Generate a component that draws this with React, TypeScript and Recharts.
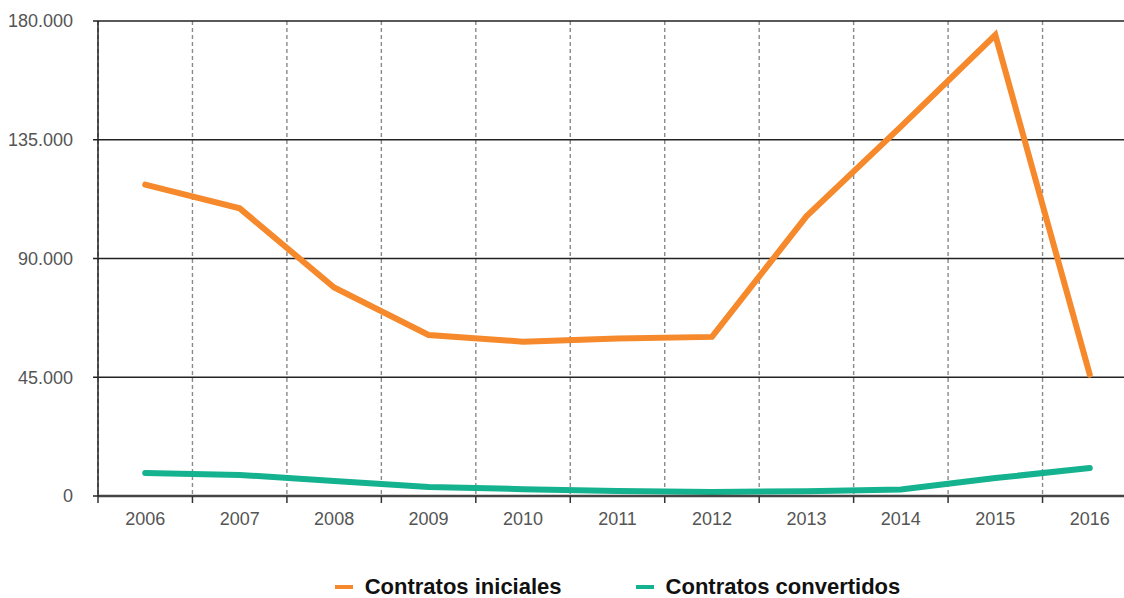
import React from 'react';
import { LineChart, Line, XAxis, YAxis, CartesianGrid, Legend, ReferenceLine } from 'recharts';

const years = ['2006', '2007', '2008', '2009', '2010', '2011', '2012', '2013', '2014', '2015', '2016'];
const contratosIniciales = [118000, 109000, 79000, 61000, 58500, 59700, 60300, 106000, 140000, 174700, 46000];
const contratosConvertidos = [8700, 8000, 5700, 3400, 2600, 1900, 1500, 1800, 2500, 6800, 10600];
const yTicks = [0, 45000, 90000, 135000, 180000];

const ORANGE = '#F5892B';
const TEAL = '#14B28F';

const data = years.map((year, i) => ({
    idx: i,
    year,
    iniciales: contratosIniciales[i],
    convertidos: contratosConvertidos[i]
}));

const centerTicks = years.map((_, i) => i);
const edgeTicks = [...years.map((_, i) => i - 0.5), years.length - 0.5];

const formatThousands = (v: number) => String(v).replace(/\B(?=(\d{3})+(?!\d))/g, '.');

const legendItems = [
    { label: 'Contratos iniciales', color: ORANGE },
    { label: 'Contratos convertidos', color: TEAL }
];

const renderLegend = () => (
    <div style={{ display: 'flex', justifyContent: 'center', paddingLeft: 98, paddingTop: 18, fontFamily: '"Liberation Sans", Arial, sans-serif' }}>
        {legendItems.map((item, i) => (
            <div key={item.label} style={{ display: 'flex', alignItems: 'center', marginLeft: i ? 74 : 0 }}>
                <span style={{ display: 'inline-block', width: 18, height: 4, background: item.color, marginRight: 12 }} />
                <span style={{ fontSize: 22, fontWeight: 'bold', color: '#111', lineHeight: '22px' }}>{item.label}</span>
            </div>
        ))}
    </div>
);

const tickStyle = { fontSize: 18, fill: '#555', fontFamily: '"Liberation Sans", Arial, sans-serif' };

const EmptyTick = () => <g />;

export default function App() {
    return (
        <div style={{ position: 'absolute', left: 0, top: 0, width: 1124, height: 598, overflow: 'hidden', background: '#fff' }}>
            <LineChart width={1140} height={598} data={data} margin={{ top: 21, right: 3, bottom: 0, left: 0 }}>
                <CartesianGrid horizontal={false} vertical={true} stroke="#8a8a8a" strokeDasharray="4 3" strokeWidth={1.4} />
                {yTicks.slice(1).map(v => (
                    <ReferenceLine key={v} y={v} stroke="#222" strokeWidth={1.3} />
                ))}
                <XAxis
                    dataKey="idx"
                    type="number"
                    domain={[-0.5, years.length - 0.5]}
                    ticks={edgeTicks}
                    tick={EmptyTick}
                    height={1}
                    tickSize={7}
                    axisLine={{ stroke: '#444', strokeWidth: 2.5 }}
                    tickLine={{ stroke: '#333', strokeWidth: 1.5 }}
                />
                <XAxis
                    xAxisId="labels"
                    dataKey="idx"
                    type="number"
                    domain={[-0.5, years.length - 0.5]}
                    ticks={centerTicks}
                    tickFormatter={(v: number) => years[v]}
                    axisLine={false}
                    tickLine={false}
                    tickSize={0}
                    tickMargin={15}
                    height={61}
                    tick={tickStyle}
                />
                <YAxis
                    domain={[0, 180000]}
                    ticks={yTicks}
                    width={98}
                    tickFormatter={formatThousands}
                    tickSize={5}
                    tickMargin={20}
                    tick={tickStyle}
                    axisLine={{ stroke: '#222', strokeWidth: 1.5 }}
                    tickLine={{ stroke: '#222', strokeWidth: 1.5 }}
                />
                <Legend verticalAlign="bottom" height={40} content={renderLegend} />
                <Line type="linear" dataKey="iniciales" stroke={ORANGE} strokeWidth={6} dot={false} strokeLinecap="round" isAnimationActive={false} />
                <Line type="linear" dataKey="convertidos" stroke={TEAL} strokeWidth={6} dot={false} strokeLinecap="round" isAnimationActive={false} />
            </LineChart>
        </div>
    );
}
